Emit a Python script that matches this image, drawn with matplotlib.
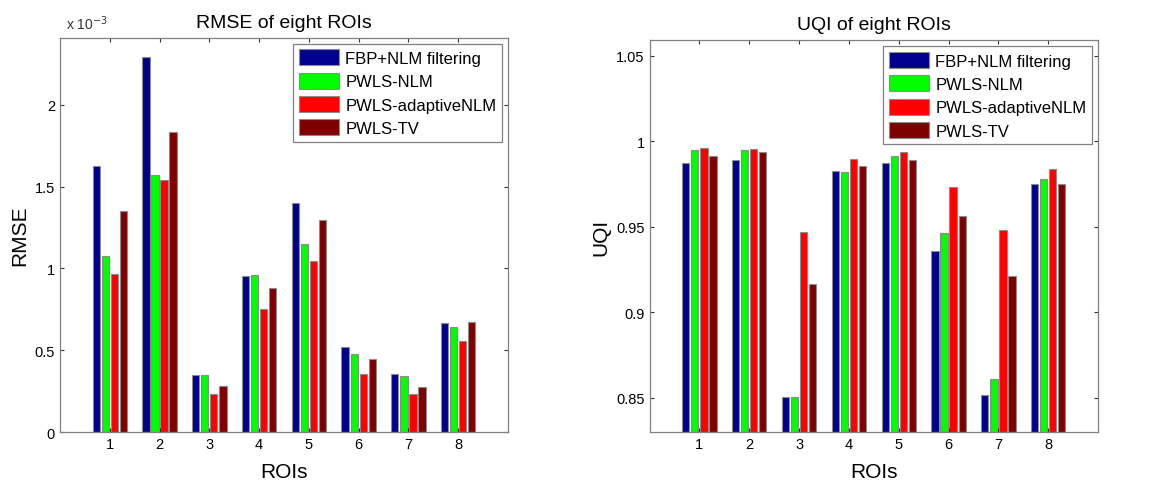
import matplotlib
matplotlib.use("Agg")
import matplotlib.pyplot as plt
import numpy as np
from matplotlib.ticker import FuncFormatter

plt.rcParams["font.family"] = ["Liberation Sans", "DejaVu Sans"]

rois = [1, 2, 3, 4, 5, 6, 7, 8]
methods = ["FBP+NLM filtering", "PWLS-NLM", "PWLS-adaptiveNLM", "PWLS-TV"]
colors = ["#00008F", "#00FF00", "#FF0000", "#800000"]

# RMSE values (real units)
rmse_fbp = [1.629e-3, 2.291e-3, 0.350e-3, 0.957e-3, 1.399e-3, 0.519e-3, 0.358e-3, 0.668e-3]
rmse_nlm = [1.075e-3, 1.574e-3, 0.350e-3, 0.963e-3, 1.147e-3, 0.479e-3, 0.342e-3, 0.644e-3]
rmse_adapt = [0.969e-3, 1.542e-3, 0.232e-3, 0.752e-3, 1.045e-3, 0.358e-3, 0.232e-3, 0.556e-3]
rmse_tv = [1.354e-3, 1.833e-3, 0.281e-3, 0.878e-3, 1.299e-3, 0.444e-3, 0.275e-3, 0.674e-3]

uqi_fbp = [0.9875, 0.9889, 0.8508, 0.9828, 0.9875, 0.9357, 0.8516, 0.9752]
uqi_nlm = [0.9951, 0.9951, 0.8508, 0.9820, 0.9914, 0.9463, 0.8609, 0.9779]
uqi_adapt = [0.9961, 0.9957, 0.9471, 0.9895, 0.9934, 0.9730, 0.9482, 0.9838]
uqi_tv = [0.9914, 0.9936, 0.9168, 0.9854, 0.9889, 0.9564, 0.9215, 0.9752]

rmse_series = [rmse_fbp, rmse_nlm, rmse_adapt, rmse_tv]
uqi_series = [uqi_fbp, uqi_nlm, uqi_adapt, uqi_tv]


def grouped_bars(ax, series, bottom):
    x = np.array(rois, dtype=float)
    n = len(series)
    group_width = min(0.8, n / (n + 1.5))
    slot = group_width / n
    for i, (vals, color, label) in enumerate(zip(series, colors, methods)):
        offset = -group_width / 2 + slot * (i + 0.5)
        vals = np.array(vals)
        ax.bar(x + offset, vals - bottom, bottom=bottom, width=slot * 0.8,
               color=color, edgecolor="#8c8c8c", linewidth=0.8, label=label)


def style_axes(ax, title, ylabel):
    ax.set_xlim(0, 9)
    ax.set_xticks(rois)
    ax.set_title(title, fontsize=14, pad=8)
    ax.set_xlabel("ROIs", fontsize=15, labelpad=8)
    ax.set_ylabel(ylabel, fontsize=15)
    ax.tick_params(direction="in", length=3, width=0.8, top=True, right=True,
                   labelsize=10.5, colors="#333333", labelcolor="black")
    for spine in ax.spines.values():
        spine.set_color("#808080")
        spine.set_linewidth(0.9)
    leg = ax.legend(loc="upper right", fontsize=12, fancybox=False, framealpha=1,
                    edgecolor="#808080", handlelength=2.4, handleheight=1.1,
                    handletextpad=0.4, labelspacing=0.4, borderpad=0.35,
                    borderaxespad=0.35)
    leg.get_frame().set_linewidth(0.9)


fig = plt.figure(figsize=(11.62, 4.85), dpi=100)

ax1 = fig.add_axes([0.0516, 0.107, 0.3856, 0.813])
grouped_bars(ax1, rmse_series, 0.0)
ax1.set_ylim(0, 2.41e-3)
ax1.set_yticks([0, 0.5e-3, 1.0e-3, 1.5e-3, 2.0e-3])
ax1.yaxis.set_major_formatter(FuncFormatter(lambda v, p: f"{v * 1e3:g}"))
style_axes(ax1, "RMSE of eight ROIs", "RMSE")
ax1.text(0.013, 1.015, "x 10$^{-3}$", transform=ax1.transAxes, fontsize=10,
         ha="left", va="bottom", color="#333333")

ax2 = fig.add_axes([0.559, 0.107, 0.386, 0.808])
grouped_bars(ax2, uqi_series, 0.83)
ax2.set_ylim(0.83, 1.059)
ax2.set_yticks([0.85, 0.9, 0.95, 1.0, 1.05])
ax2.yaxis.set_major_formatter(FuncFormatter(lambda v, p: f"{v:g}"))
style_axes(ax2, "UQI of eight ROIs", "UQI")

fig.savefig("out.png", dpi=100)
